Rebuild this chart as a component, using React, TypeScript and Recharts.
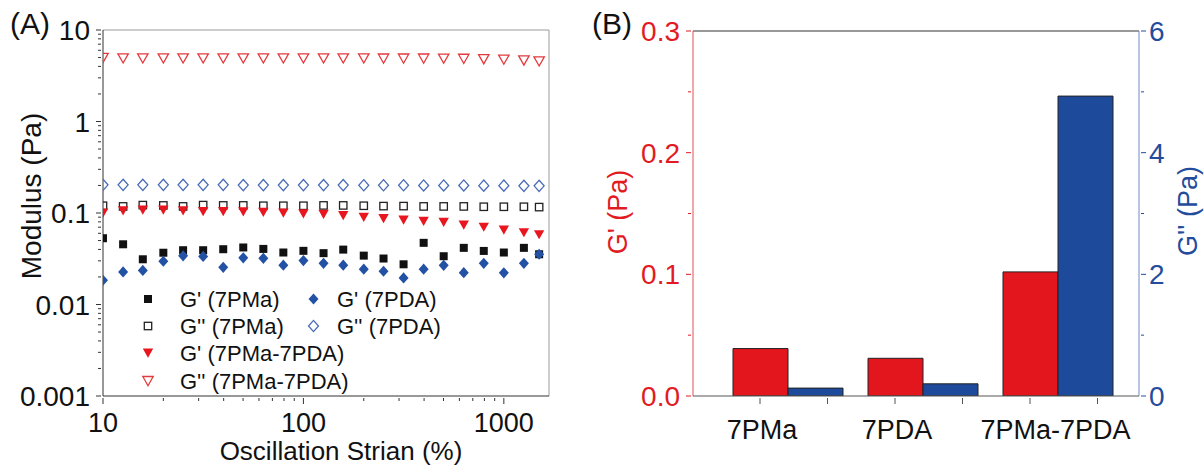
import React from 'react';
import { ScatterChart, Scatter, XAxis, YAxis, ReferenceLine, BarChart, Bar } from 'recharts';

const FONT = "'Liberation Sans', Arial, Helvetica, sans-serif";

// ---------- Panel A data ----------
const strain = [10, 12.6, 15.8, 20, 25.1, 31.6, 39.8, 50.1, 63.1, 79.4, 100, 126, 158, 200, 251, 316, 398, 501, 631, 794, 1000, 1259, 1500];
const gPrime7PMa = [0.053, 0.0455, 0.0312, 0.0368, 0.0392, 0.0392, 0.0402, 0.042, 0.0405, 0.037, 0.0386, 0.0364, 0.0398, 0.0342, 0.0318, 0.0275, 0.0472, 0.0337, 0.0416, 0.0385, 0.037, 0.0416, 0.0354];
const gDouble7PMa = [0.12, 0.118, 0.122, 0.121, 0.118, 0.122, 0.121, 0.121, 0.12, 0.12, 0.12, 0.121, 0.121, 0.12, 0.119, 0.119, 0.118, 0.118, 0.118, 0.117, 0.117, 0.117, 0.116];
const gPrime7PDA = [0.0184, 0.0227, 0.0236, 0.0297, 0.034, 0.0335, 0.0255, 0.0324, 0.032, 0.0269, 0.0302, 0.0282, 0.0269, 0.0243, 0.0231, 0.0195, 0.0243, 0.0268, 0.0223, 0.0282, 0.0222, 0.0282, 0.0354];
const gDouble7PDA = [0.203, 0.203, 0.203, 0.203, 0.203, 0.203, 0.203, 0.202, 0.202, 0.202, 0.202, 0.202, 0.202, 0.201, 0.201, 0.201, 0.2, 0.2, 0.2, 0.199, 0.199, 0.198, 0.198];
const gPrimeMix = [0.1, 0.106, 0.108, 0.108, 0.106, 0.104, 0.104, 0.103, 0.102, 0.1, 0.098, 0.097, 0.094, 0.09, 0.087, 0.084, 0.081, 0.079, 0.074, 0.07, 0.065, 0.061, 0.058];
const gDoubleMix = [4.95, 4.9, 4.9, 4.9, 4.9, 4.9, 4.9, 4.9, 4.9, 4.9, 4.9, 4.9, 4.9, 4.9, 4.88, 4.88, 4.88, 4.87, 4.85, 4.8, 4.75, 4.65, 4.55];

const xTicksA = [10, 20, 30, 40, 50, 60, 70, 80, 90, 100, 200, 300, 400, 500, 600, 700, 800, 900, 1000];
const xMajorA = [10, 100, 1000];
const yTicksA = [0.001, 0.002, 0.003, 0.004, 0.005, 0.006, 0.007, 0.008, 0.009, 0.01, 0.02, 0.03, 0.04, 0.05, 0.06, 0.07, 0.08, 0.09, 0.1, 0.2, 0.3, 0.4, 0.5, 0.6, 0.7, 0.8, 0.9, 1, 2, 3, 4, 5, 6, 7, 8, 9, 10];
const yMajorA = [0.001, 0.01, 0.1, 1, 10];

// ---------- Panel B data ----------
const categories = ['7PMa', '7PDA', '7PMa-7PDA'];
const barGPrime = [0.039, 0.031, 0.102];
const barGDouble = [0.13, 0.2, 4.93];
const leftTicksB = [0, 0.05, 0.1, 0.15, 0.2, 0.25, 0.3];
const leftMajorB = [0, 0.1, 0.2, 0.3];
const rightTicksB = [0, 1, 2, 3, 4, 5, 6];
const rightMajorB = [0, 2, 4, 6];

const BLACK = '#111111';
const RED = '#E8161E';
const RED_OPEN = '#E4393C';
const BLUE = '#2352A5';
const BLUE_OPEN = '#4A6CB8';
const BAR_RED = '#E3161E';
const BAR_BLUE = '#1E4A9C';
const AXIS_RED = '#E21B23';
const AXIS_BLUE = '#244C9C';

const isIn = (v: number, list: number[]) => list.some((m) => Math.abs(m - v) < 1e-9);

type Kind = 'square' | 'diamond' | 'tri';

function Marker({ cx, cy, kind, filled, color }: { cx: number; cy: number; kind: Kind; filled: boolean; color: string }) {
  if (cx == null || cy == null || isNaN(cx) || isNaN(cy)) return null;
  const fill = filled ? color : 'none';
  const sw = filled ? 0 : 1.3;
  if (kind === 'square') {
    const s = filled ? 8 : 7.4;
    return <rect x={cx - s / 2} y={cy - s / 2} width={s} height={s} fill={fill} stroke={color} strokeWidth={sw} />;
  }
  if (kind === 'diamond') {
    const pts = `${cx},${cy - 5.6} ${cx + 5},${cy} ${cx},${cy + 5.6} ${cx - 5},${cy}`;
    return <polygon points={pts} fill={fill} stroke={color} strokeWidth={sw} />;
  }
  const pts = `${cx - 5.2},${cy - 4.5} ${cx + 5.2},${cy - 4.5} ${cx},${cy + 4.7}`;
  return <polygon points={pts} fill={fill} stroke={color} strokeWidth={sw} />;
}

const seriesA = [
  { name: "G'' (7PMa)", values: gDouble7PMa, kind: 'square' as Kind, filled: false, color: '#222222' },
  { name: "G'' (7PDA)", values: gDouble7PDA, kind: 'diamond' as Kind, filled: false, color: BLUE_OPEN },
  { name: "G'' (7PMa-7PDA)", values: gDoubleMix, kind: 'tri' as Kind, filled: false, color: RED_OPEN },
  { name: "G' (7PMa)", values: gPrime7PMa, kind: 'square' as Kind, filled: true, color: BLACK },
  { name: "G' (7PDA)", values: gPrime7PDA, kind: 'diamond' as Kind, filled: true, color: BLUE },
  { name: "G' (7PMa-7PDA)", values: gPrimeMix, kind: 'tri' as Kind, filled: true, color: RED },
];

const legendItems = [
  { name: "G' (7PMa)", kind: 'square' as Kind, filled: true, color: BLACK, col: 0, row: 0 },
  { name: "G'' (7PMa)", kind: 'square' as Kind, filled: false, color: '#222222', col: 0, row: 1 },
  { name: "G' (7PMa-7PDA)", kind: 'tri' as Kind, filled: true, color: RED, col: 0, row: 2 },
  { name: "G'' (7PMa-7PDA)", kind: 'tri' as Kind, filled: false, color: RED_OPEN, col: 0, row: 3 },
  { name: "G' (7PDA)", kind: 'diamond' as Kind, filled: true, color: BLUE, col: 1, row: 0 },
  { name: "G'' (7PDA)", kind: 'diamond' as Kind, filled: false, color: BLUE_OPEN, col: 1, row: 1 },
];
const legendMarkerX = [148, 313.5];
const legendTextX = [180, 337];
const legendRowY = [299, 326, 353, 381];

const LogYTick = (props: any) => {
  const { x, y, payload } = props;
  const v = payload.value;
  const major = isIn(v, yMajorA);
  return (
    <g>
      <line x1={x - (major ? 5 : 3)} x2={x} y1={y} y2={y} stroke="#333" strokeWidth={1} />
      {major && (
        <text x={x - 11} y={y} dy="0.36em" textAnchor="end" fontSize={28} fill="#111" fontFamily={FONT}>
          {String(v)}
        </text>
      )}
    </g>
  );
};

const LogXTick = (props: any) => {
  const { x, y, payload } = props;
  const v = payload.value;
  const major = isIn(v, xMajorA);
  return (
    <g>
      <line x1={x} x2={x} y1={y} y2={y + (major ? 6 : 3)} stroke="#333" strokeWidth={1} />
      {major && (
        <text x={x} y={y + 34} textAnchor="middle" fontSize={27} fill="#111" fontFamily={FONT}>
          {String(v)}
        </text>
      )}
    </g>
  );
};

const LeftTickB = (props: any) => {
  const { x, y, payload } = props;
  const v = payload.value;
  const major = isIn(v, leftMajorB);
  return (
    <g>
      <line x1={x - (major ? 5 : 3)} x2={x} y1={y} y2={y} stroke={AXIS_RED} strokeWidth={1} />
      {major && (
        <text x={x - 11} y={y} dy="0.36em" textAnchor="end" fontSize={28} fill={AXIS_RED} fontFamily={FONT}>
          {v.toFixed(1)}
        </text>
      )}
    </g>
  );
};

const RightTickB = (props: any) => {
  const { x, y, payload } = props;
  const v = payload.value;
  const major = isIn(v, rightMajorB);
  return (
    <g>
      <line x1={x} x2={x + (major ? 5 : 3)} y1={y} y2={y} stroke={AXIS_BLUE} strokeWidth={1} />
      {major && (
        <text x={x + 8} y={y} dy="0.36em" textAnchor="start" fontSize={28} fill={AXIS_BLUE} fontFamily={FONT}>
          {String(v)}
        </text>
      )}
    </g>
  );
};

const CatTickB = (props: any) => {
  const { x, y, payload, index } = props;
  const tx = x - 27.5;
  const last = index === categories.length - 1;
  const lx = last ? x - 2 : tx + 2;
  return (
    <g>
      <line x1={tx} x2={tx} y1={y} y2={y + 6} stroke="#555" strokeWidth={1} />
      <line x1={tx + 67.5} x2={tx + 67.5} y1={y} y2={y + 6} stroke="#555" strokeWidth={1} />
      <text x={lx} y={y + 41} textAnchor="middle" fontSize={27} fill="#111" fontFamily={FONT}>
        {payload.value}
      </text>
    </g>
  );
};

export default function App() {
  const barData = categories.map((c, i) => ({ cat: c, gp: barGPrime[i], gpp: barGDouble[i] }));
  return (
    <div style={{ position: 'absolute', left: 0, top: 0, width: 1204, height: 466, background: '#fff', overflow: 'hidden', fontFamily: FONT }}>
      <div style={{ position: 'absolute', left: 0, top: 0 }}>
        <ScatterChart width={600} height={466} margin={{ top: 30, right: 51, bottom: 0, left: 0 }}>
          <XAxis
            dataKey="x"
            type="number"
            scale="log"
            domain={[10, 1680]}
            allowDataOverflow
            ticks={xTicksA}
            interval={0}
            height={70}
            tickSize={0}
            tickLine={false}
            tick={LogXTick}
            axisLine={{ stroke: '#333', strokeWidth: 1 }}
            label={{
              content: () => (
                <text x={341} y={460} textAnchor="middle" fontSize={26} fill="#111" fontFamily={FONT}>
                  Oscillation Strian (%)
                </text>
              ),
            }}
          />
          <YAxis
            dataKey="y"
            type="number"
            scale="log"
            domain={[0.001, 10]}
            allowDataOverflow
            ticks={yTicksA}
            interval={0}
            width={103}
            tickSize={0}
            tickLine={false}
            tick={LogYTick}
            axisLine={{ stroke: '#333', strokeWidth: 1 }}
            label={{
              content: () => (
                <text x={41} y={196} transform="rotate(-90 41 196)" textAnchor="middle" fontSize={28} fill="#111" fontFamily={FONT}>
                  Modulus (Pa)
                </text>
              ),
            }}
          />
          <ReferenceLine y={10} stroke="#9a9a9a" strokeWidth={1} />
          <ReferenceLine x={1680} stroke="#9a9a9a" strokeWidth={1} />
          {seriesA.map((s) => (
            <Scatter
              key={s.name}
              name={s.name}
              data={strain.map((x, i) => ({ x, y: s.values[i] }))}
              isAnimationActive={false}
              shape={(p: any) => <Marker cx={p.cx} cy={p.cy} kind={s.kind} filled={s.filled} color={s.color} />}
            />
          ))}
        </ScatterChart>
      </div>
      <svg width={600} height={466} style={{ position: 'absolute', left: 0, top: 0, pointerEvents: 'none' }}>
        <text x={10} y={34} fontSize={30} fill="#111" fontFamily={FONT}>(A)</text>
        {legendItems.map((it) => (
          <g key={it.name}>
            <Marker cx={legendMarkerX[it.col]} cy={legendRowY[it.row]} kind={it.kind} filled={it.filled} color={it.color} />
            <text x={legendTextX[it.col]} y={legendRowY[it.row]} dy="0.36em" fontSize={22} fill="#111" fontFamily={FONT}>
              {it.name}
            </text>
          </g>
        ))}
      </svg>
      <div style={{ position: 'absolute', left: 600, top: 0 }}>
        <BarChart width={604} height={466} data={barData} margin={{ top: 31, right: 0, bottom: 0, left: 0 }} barCategoryGap={13} barGap={0}>
          <XAxis
            dataKey="cat"
            height={70}
            padding={{ left: 27, right: 14 }}
            interval={0}
            tickSize={0}
            tickLine={false}
            tick={CatTickB}
            axisLine={{ stroke: '#555', strokeWidth: 1 }}
          />
          <YAxis
            yAxisId="left"
            orientation="left"
            type="number"
            domain={[0, 0.3]}
            allowDataOverflow
            ticks={leftTicksB}
            interval={0}
            width={93}
            tickSize={0}
            tickLine={false}
            tick={LeftTickB}
            axisLine={{ stroke: '#E0505A', strokeWidth: 1 }}
            label={{
              content: () => (
                <text x={27} y={212} transform="rotate(-90 27 212)" textAnchor="middle" fontSize={27} fill={AXIS_RED} fontFamily={FONT}>
                  G' (Pa)
                </text>
              ),
            }}
          />
          <YAxis
            yAxisId="right"
            orientation="right"
            type="number"
            domain={[0, 6]}
            allowDataOverflow
            ticks={rightTicksB}
            interval={0}
            width={65}
            tickSize={0}
            tickLine={false}
            tick={RightTickB}
            axisLine={{ stroke: '#6F8BC4', strokeWidth: 1 }}
            label={{
              content: () => (
                <text x={597} y={211} transform="rotate(-90 597 211)" textAnchor="middle" fontSize={27} fill={AXIS_BLUE} fontFamily={FONT}>
                  G'' (Pa)
                </text>
              ),
            }}
          />
          <ReferenceLine yAxisId="left" y={0.3} stroke="#333" strokeWidth={1} />
          <Bar yAxisId="left" dataKey="gp" name="G'" fill={BAR_RED} stroke="#222" strokeWidth={1} isAnimationActive={false} />
          <Bar yAxisId="right" dataKey="gpp" name="G''" fill={BAR_BLUE} stroke="#222" strokeWidth={1} isAnimationActive={false} />
        </BarChart>
      </div>
      <svg width={60} height={50} style={{ position: 'absolute', left: 590, top: 0, pointerEvents: 'none' }}>
        <text x={2} y={34} fontSize={30} fill="#111" fontFamily={FONT}>(B)</text>
      </svg>
    </div>
  );
}
